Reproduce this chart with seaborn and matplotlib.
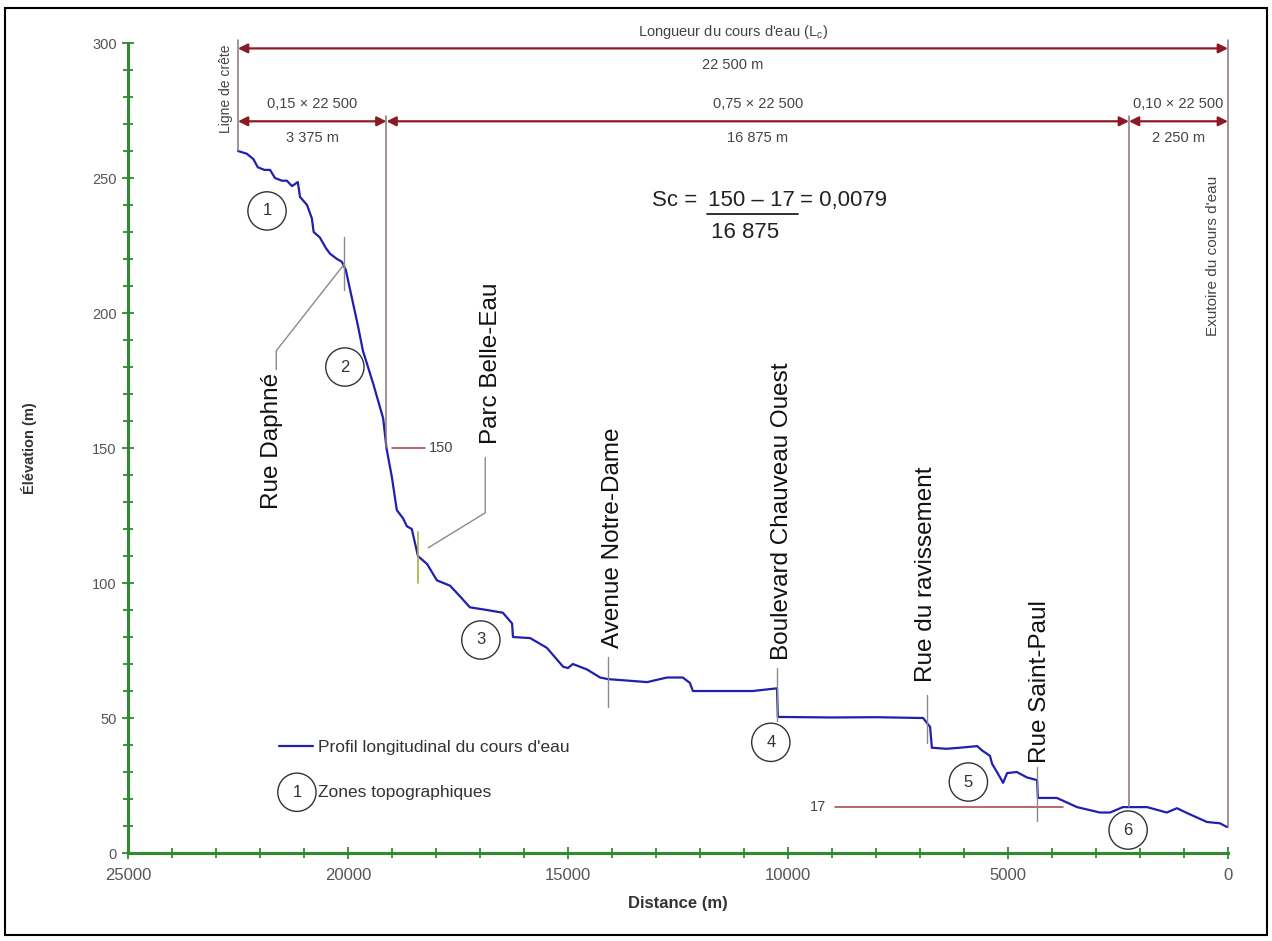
import pandas as pd
import matplotlib
matplotlib.use("Agg")
import matplotlib.pyplot as plt
import seaborn as sns
from matplotlib.patches import Rectangle

# profil longitudinal (distance depuis l'exutoire, m)
distance = [22500, 22300, 22150, 22050, 21900, 21770, 21660, 21500, 21390, 21270,
            21140, 21090, 20930, 20820, 20780, 20640, 20500, 20410, 20250, 20140,
            20050, 19890, 19770, 19660, 19430, 19200, 19125, 19000, 18890, 18750,
            18660, 18550, 18410, 18200, 17980, 17680, 17450, 17230, 16840, 16480,
            16270, 16250, 15860, 15480, 15110, 15000, 14890, 14570, 14270, 14090,
            13600, 13200, 12750, 12390, 12230, 12160, 11500, 10800, 10250, 10230,
            9000, 8000, 6930, 6770, 6730, 6400, 6090, 5700, 5590, 5410,
            5360, 5250, 5110, 5020, 4800, 4570, 4340, 4320, 3890, 3430,
            2910, 2680, 2390, 1840, 1390, 1160, 930, 480, 180, 20]
elevation = [260, 259, 257, 254, 253, 253, 250, 249, 249, 247,
             248.5, 243, 240, 235, 230, 228, 224, 222, 220, 219,
             216, 204, 195, 186, 174, 161, 150, 139, 127, 124,
             121, 120, 110, 107, 101, 99, 95, 91, 90, 89,
             85, 80, 79.6, 76, 69, 68.5, 70, 68, 65, 64.4,
             63.8, 63.3, 65, 65, 63, 60, 60, 60, 61, 50.4,
             50.2, 50.3, 50, 46.7, 39, 38.6, 39, 39.6, 38, 36,
             33, 30, 26, 29.6, 30, 28, 27, 20.4, 20.4, 17,
             15, 15, 17, 17, 15, 16.6, 14.8, 11.5, 11, 9.6]

# zones topographiques (cercles numérotés)
zone_labels = ["1", "2", "3", "4", "5", "6"]
zone_x = [21840, 20070, 16980, 10390, 5900, 2270]
zone_y = [237.8, 180, 78.9, 41, 26.3, 8.5]

# repères (rues) : position, bas / haut du trait, position du texte
street_names = ["Avenue Notre-Dame", "Boulevard Chauveau Ouest", "Rue du ravissement", "Rue Saint-Paul"]
street_x = [14090, 10250, 6840, 4340]
street_y0 = [54, 49, 40.7, 12]
street_y1 = [72.6, 68.5, 58.5, 32]
street_text_x = [13980, 10140, 6860, 4270]
street_text_y = [76, 71.5, 63.5, 33.5]

# longueurs (cotes)
total_length = 22500
seg_bounds = [22500, 19125, 2250, 0]
seg_top = ["0,15 × 22 500", "0,75 × 22 500", "0,10 × 22 500"]
seg_bottom = ["3 375 m", "16 875 m", "2 250 m"]
z_150 = 150
z_17 = 17

df = pd.DataFrame({"Distance (m)": distance, "Élévation (m)": elevation})

sns.set_style("white")
plt.rcParams['font.family'] = ['Liberation Sans', 'DejaVu Sans']

fig = plt.figure(figsize=(12.72, 9.41), dpi=100)
ax = fig.add_axes([0.1006, 0.0935, 0.8648, 0.8608])

red = "#8b1a24"
grey = "#8a8a8a"
green = "#2e8b2e"
blue = "#1f1fb0"
small = 10.5

sns.lineplot(data=df, x="Distance (m)", y="Élévation (m)", ax=ax, color=blue,
             linewidth=1.6, sort=False, estimator=None,
             label="Profil longitudinal du cours d'eau")

ax.set_xlim(25000, 0)
ax.set_ylim(0, 300)

# axes
for s in ["top", "right"]:
    ax.spines[s].set_visible(False)
for s in ["left", "bottom"]:
    ax.spines[s].set_color(green)
    ax.spines[s].set_linewidth(2.2)
ax.set_xticks(range(0, 25001, 5000))
ax.set_xticks(range(0, 25001, 1000), minor=True)
ax.set_yticks(range(0, 301, 50))
ax.set_yticks(range(0, 301, 10), minor=True)
ax.tick_params(which="both", direction="inout", color=green, width=1.3,
               bottom=True, left=True, labelsize=10.5, labelcolor="#555555")
ax.tick_params(which="major", length=9)
ax.tick_params(which="minor", length=7)
ax.tick_params(axis="x", pad=6, labelsize=12)
ax.set_xlabel("Distance (m)", fontsize=12, fontweight="bold", color="#333333", labelpad=10)
ax.set_ylabel("Élévation (m)", fontsize=10.5, fontweight="bold", color="#333333", labelpad=40)

# cotes de longueur
vline_kw = dict(color="#8a7474", linewidth=1.1, clip_on=False)
ax.plot([seg_bounds[0]] * 2, [260, 301], **vline_kw)
ax.plot([seg_bounds[1]] * 2, [z_150, 273], **vline_kw)
ax.plot([seg_bounds[2]] * 2, [z_17, 273], **vline_kw)
ax.plot([seg_bounds[3]] * 2, [9.6, 301], **vline_kw)

arrow_kw = dict(arrowstyle="<|-|>", color=red, lw=1.6, mutation_scale=14,
                shrinkA=0, shrinkB=0)
ax.annotate("", xy=(0, 298), xytext=(total_length, 298), arrowprops=arrow_kw,
            annotation_clip=False)
ax.text(total_length / 2, 304, "Longueur du cours d'eau (L$_\\mathregular{c}$)", ha="center", va="center",
        fontsize=small, color="#444444", clip_on=False)
ax.text(total_length / 2, 292, "22 500 m", ha="center", va="center", fontsize=small, color="#444444")
for i in range(3):
    a, b = seg_bounds[i], seg_bounds[i + 1]
    ax.annotate("", xy=(b, 271), xytext=(a, 271), arrowprops=arrow_kw)
    ax.text((a + b) / 2, 277.4, seg_top[i], ha="center", va="center", fontsize=small, color="#444444")
    ax.text((a + b) / 2, 265, seg_bottom[i], ha="center", va="center", fontsize=small, color="#444444")

ax.text(22780, 283, "Ligne de crête", rotation=90, ha="center", va="center",
        fontsize=10, color="#444444")
ax.text(340, 221, "Exutoire du cours d'eau", rotation=90, ha="center", va="center",
        fontsize=11, color="#444444")

# 150 et 17
ax.plot([19000, 18250], [z_150, z_150], color="#a04040", linewidth=1.1)
ax.text(18150, z_150, "150", ha="left", va="center", fontsize=small, color="#444444")
ax.plot([8930, 3750], [z_17, z_17], color="#a04040", linewidth=1.1)
ax.text(9140, z_17, "17", ha="right", va="center", fontsize=small, color="#444444")

# pente
ax.text(13090, 241.8, "Sc =", ha="left", va="center", fontsize=16, color="#222222")
ax.text(10820, 241.8, "150 – 17", ha="center", va="center", fontsize=16, color="#222222")
ax.text(9730, 241.8, "= 0,0079", ha="left", va="center", fontsize=16, color="#222222")
ax.plot([11840, 9770], [236.7, 236.7], color="#222222", linewidth=1.3)
ax.text(10980, 230, "16 875", ha="center", va="center", fontsize=16, color="#222222")

# repères des rues
big = dict(rotation=90, fontsize=17.5, color="#111111", ha="center")
ax.plot([20090, 20090], [208.5, 228], color=grey, linewidth=1)
ax.plot([20090, 21630, 21630], [218, 186, 179], color=grey, linewidth=1)
ax.text(21730, 178, "Rue Daphné", va="top", **big)

ax.plot([18410, 18410], [100, 119], color="#a8b040", linewidth=1.2)
ax.plot([18180, 16880, 16880], [113, 126, 146.5], color=grey, linewidth=1)
ax.text(16740, 151.5, "Parc Belle-Eau", va="bottom", **big)

for name, sx, y0, y1, tx, ty in zip(street_names, street_x, street_y0, street_y1,
                                    street_text_x, street_text_y):
    ax.plot([sx, sx], [y0, y1], color=grey, linewidth=1)
    ax.text(tx, ty, name, va="bottom", **big)

# zones
ax.scatter(zone_x, zone_y, s=760, facecolors="none", edgecolors="#333333", linewidths=1, zorder=4)
for lab, zx, zy in zip(zone_labels, zone_x, zone_y):
    ax.text(zx, zy, lab, ha="center", va="center", fontsize=12, color="#333333", zorder=5)

# légende
ax.legend(loc="center left", bbox_to_anchor=(0.137, 0.13), frameon=False, fontsize=12.5,
          handlelength=2.0, handletextpad=0.25, borderpad=0, borderaxespad=0,
          labelcolor="#333333")
ax.scatter([21160], [22.5], s=760, facecolors="none", edgecolors="#333333", linewidths=1, zorder=4)
ax.text(21160, 22.5, "1", ha="center", va="center", fontsize=12, color="#333333")
ax.text(20680, 22.5, "Zones topographiques", ha="left", va="center", fontsize=12.5, color="#333333")

fig.patches.append(Rectangle((0.004, 0.006), 0.992, 0.986, transform=fig.transFigure,
                             fill=False, edgecolor="black", linewidth=1.5))

fig.savefig("out.png", dpi=100)
